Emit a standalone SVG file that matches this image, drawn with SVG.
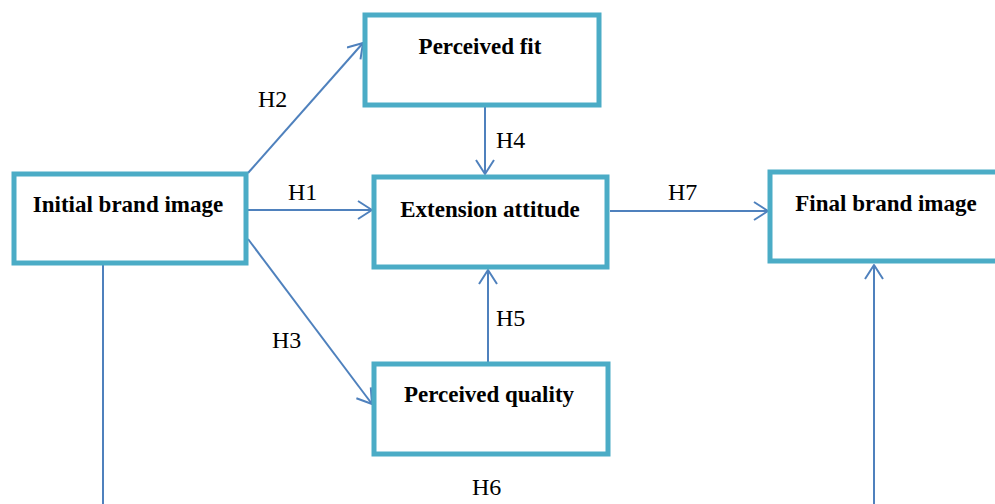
<svg xmlns="http://www.w3.org/2000/svg" width="995" height="504" viewBox="0 0 995 504">
<style>
.box{fill:#fff;stroke:#4BACC6;stroke-width:5}
.nt{font-family:"Liberation Serif","Times New Roman",serif;font-weight:bold;font-size:23px;fill:#000;text-anchor:middle}
.lb{font-family:"Liberation Serif","Times New Roman",serif;font-size:24px;fill:#000}
.cn{stroke:#4F81BD;stroke-width:2;fill:none}
</style>
<defs>
<marker id="arr" viewBox="0 0 16 20" refX="15" refY="10" markerWidth="16" markerHeight="20" markerUnits="userSpaceOnUse" orient="auto">
<path d="M1,1 L15,10 L1,19" fill="none" stroke="#4F81BD" stroke-width="2" stroke-linejoin="round"/>
</marker>
</defs>
<rect width="995" height="504" fill="#fff"/>
<g id="connectors">
<line class="cn" x1="248" y1="173" x2="363" y2="43" marker-end="url(#arr)"/>
<line class="cn" x1="248" y1="210" x2="372" y2="210" marker-end="url(#arr)"/>
<line class="cn" x1="248" y1="239" x2="372" y2="404" marker-end="url(#arr)"/>
<line class="cn" x1="485" y1="106" x2="485" y2="174" marker-end="url(#arr)"/>
<line class="cn" x1="488" y1="362" x2="488" y2="270" marker-end="url(#arr)"/>
<line class="cn" x1="610" y1="211" x2="768" y2="211" marker-end="url(#arr)"/>
<line class="cn" x1="103" y1="265" x2="103" y2="504"/>
<line class="cn" x1="874" y1="504" x2="874" y2="265" marker-end="url(#arr)"/>
<text class="lb" x="258" y="107">H2</text>
<text class="lb" x="288" y="200">H1</text>
<text class="lb" x="272" y="348">H3</text>
<text class="lb" x="496" y="148">H4</text>
<text class="lb" x="496" y="326">H5</text>
<text class="lb" x="668" y="200">H7</text>
<text class="lb" x="472" y="495">H6</text>
</g>
<g id="initial-brand-image">
<rect class="box" x="14" y="174" width="232" height="89"/>
<text class="nt" x="128" y="212">Initial brand image</text>
</g>
<g id="perceived-fit">
<rect class="box" x="365" y="15" width="234" height="90"/>
<text class="nt" x="480" y="54">Perceived fit</text>
</g>
<g id="extension-attitude">
<rect class="box" x="374" y="177" width="233" height="90"/>
<text class="nt" x="490" y="217">Extension attitude</text>
</g>
<g id="final-brand-image">
<rect class="box" x="770" y="172" width="240" height="89"/>
<text class="nt" x="886" y="211">Final brand image</text>
</g>
<g id="perceived-quality">
<rect class="box" x="374" y="364" width="234" height="90"/>
<text class="nt" x="489" y="402">Perceived quality</text>
</g>
</svg>
